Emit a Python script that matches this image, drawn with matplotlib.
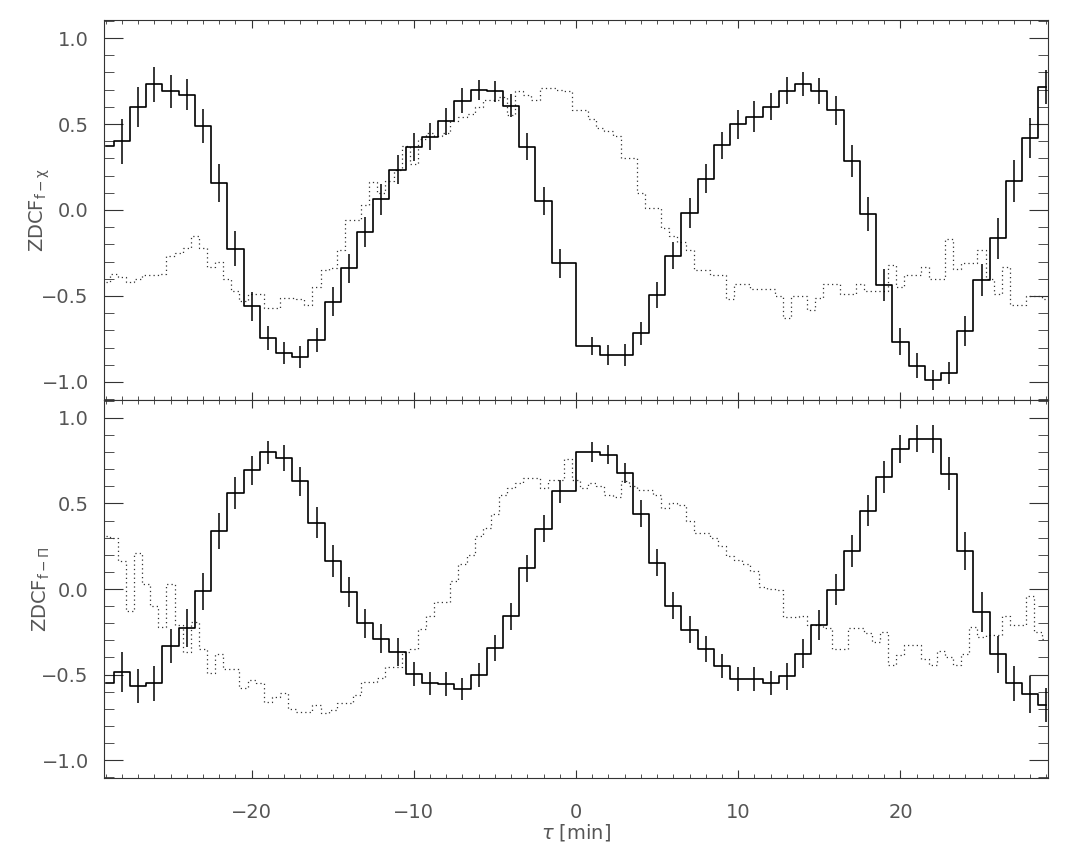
import numpy as np
import matplotlib
matplotlib.use("Agg")
import matplotlib.pyplot as plt
from matplotlib.ticker import MultipleLocator

# lags of the coarse ZDCF (solid) -- zero lag bin is missing
solid_lag = [t for t in range(-29, 30) if t != 0]

# upper panel: ZDCF f - chi
top_solid = [0.37, 0.40, 0.60, 0.73, 0.69, 0.67, 0.49, 0.155, -0.225, -0.56,
             -0.745, -0.83, -0.856, -0.756, -0.533, -0.34, -0.13, 0.062, 0.234, 0.366,
             0.426, 0.517, 0.636, 0.70, 0.69, 0.606, 0.368, 0.052, -0.31,
             -0.79, -0.843, -0.843, -0.717, -0.494, -0.267, -0.016, 0.182, 0.376, 0.498,
             0.543, 0.60, 0.694, 0.733, 0.69, 0.58, 0.285, -0.023, -0.436, -0.766,
             -0.905, -0.988, -0.946, -0.703, -0.407, -0.165, 0.169, 0.42, 0.717]
top_err = [0.13, 0.13, 0.115, 0.10, 0.094, 0.09, 0.10, 0.11, 0.10, 0.083,
           0.07, 0.063, 0.063, 0.068, 0.083, 0.087, 0.087, 0.09, 0.083, 0.083,
           0.078, 0.078, 0.073, 0.058, 0.063, 0.068, 0.078, 0.083, 0.085,
           0.054, 0.058, 0.063, 0.068, 0.073, 0.078, 0.087, 0.083, 0.078, 0.083,
           0.092, 0.078, 0.078, 0.068, 0.076, 0.084, 0.092, 0.10, 0.092, 0.078,
           0.073, 0.058, 0.063, 0.087, 0.092, 0.12, 0.12, 0.116, 0.10]

# lower panel: ZDCF f - Pi
bot_solid = [-0.552, -0.484, -0.566, -0.552, -0.333, -0.227, -0.014, 0.339, 0.562, 0.694,
             0.80, 0.766, 0.63, 0.388, 0.163, -0.016, -0.20, -0.29, -0.368, -0.498,
             -0.552, -0.558, -0.585, -0.504, -0.345, -0.159, 0.12, 0.353, 0.572,
             0.80, 0.785, 0.68, 0.44, 0.155, -0.097, -0.238, -0.35, -0.45, -0.527,
             -0.527, -0.552, -0.51, -0.378, -0.209, -0.004, 0.223, 0.459, 0.655, 0.818,
             0.88, 0.878, 0.674, 0.223, -0.136, -0.382, -0.552, -0.616, -0.678]
bot_err = [0.11, 0.116, 0.10, 0.10, 0.10, 0.11, 0.107, 0.107, 0.095, 0.083,
           0.068, 0.078, 0.085, 0.09, 0.094, 0.087, 0.084, 0.087, 0.08, 0.07,
           0.068, 0.07, 0.065, 0.07, 0.074, 0.078, 0.08, 0.078, 0.068,
           0.058, 0.055, 0.058, 0.078, 0.078, 0.081, 0.08, 0.078, 0.068, 0.072,
           0.072, 0.07, 0.078, 0.083, 0.087, 0.092, 0.092, 0.092, 0.094, 0.08,
           0.08, 0.08, 0.097, 0.113, 0.118, 0.107, 0.10, 0.107, 0.10]

# finer ZDCF (dotted), half-minute lags
dot_lag = np.arange(-29, 29.5, 0.5)
top_dot = [-0.42, -0.37, -0.39, -0.42, -0.40, -0.38, -0.38, -0.37, -0.27, -0.25,
           -0.22, -0.15, -0.22, -0.33, -0.30, -0.40, -0.47, -0.53, -0.49, -0.49,
           -0.57, -0.57, -0.51, -0.51, -0.52, -0.55, -0.45, -0.35, -0.34, -0.23,
           -0.06, -0.06, 0.03, 0.16, 0.10, 0.17, 0.23, 0.37, 0.27, 0.41,
           0.45, 0.43, 0.45, 0.52, 0.54, 0.56, 0.60, 0.64, 0.64, 0.66,
           0.55, 0.69, 0.67, 0.64, 0.71, 0.71, 0.70, 0.69, 0.58, 0.58,
           0.53, 0.475, 0.46, 0.43, 0.30, 0.30, 0.10, 0.01, 0.01, -0.106,
           -0.15, -0.184, -0.23, -0.35, -0.35, -0.378, -0.378, -0.52, -0.43, -0.43,
           -0.46, -0.46, -0.46, -0.50, -0.63, -0.50, -0.50, -0.58, -0.51, -0.43,
           -0.43, -0.49, -0.49, -0.43, -0.47, -0.47, -0.47, -0.32, -0.45, -0.38,
           -0.38, -0.33, -0.40, -0.40, -0.17, -0.345, -0.31, -0.31, -0.23, -0.40,
           -0.49, -0.33, -0.55, -0.55, -0.50, -0.50, -0.52]
bot_dot = [0.31, 0.30, 0.165, -0.126, 0.21, 0.03, -0.10, -0.223, 0.03, -0.21,
           -0.368, -0.19, -0.35, -0.494, -0.38, -0.467, -0.467, -0.58, -0.532, -0.55,
           -0.66, -0.63, -0.61, -0.70, -0.717, -0.717, -0.68, -0.727, -0.71, -0.669,
           -0.669, -0.62, -0.543, -0.543, -0.52, -0.455, -0.455, -0.368, -0.35, -0.233,
           -0.155, -0.077, -0.077, 0.048, 0.145, 0.20, 0.31, 0.359, 0.436, 0.552,
           0.59, 0.62, 0.65, 0.65, 0.59, 0.64, 0.64, 0.76, 0.64, 0.59,
           0.62, 0.60, 0.55, 0.54, 0.63, 0.60, 0.58, 0.58, 0.55, 0.475,
           0.50, 0.49, 0.40, 0.33, 0.33, 0.30, 0.25, 0.194, 0.17, 0.145,
           0.107, 0.01, 0.0, -0.004, -0.165, -0.165, -0.155, -0.21, -0.21, -0.23,
           -0.349, -0.349, -0.23, -0.23, -0.26, -0.31, -0.25, -0.446, -0.388, -0.326,
           -0.326, -0.407, -0.446, -0.365, -0.40, -0.446, -0.378, -0.223, -0.28, -0.27,
           -0.27, -0.155, -0.21, -0.21, -0.039, -0.25, -0.29]

ylabels = [r'ZDCF$_{\rm f-\chi}$', r'ZDCF$_{\rm f-\Pi}$']
txt = '#555555'

fig = plt.figure(figsize=(10.69, 8.61), dpi=100)
ax1 = fig.add_axes([0.0973, 0.5354, 0.8831, 0.4414])
ax2 = fig.add_axes([0.0973, 0.0964, 0.8831, 0.4390], sharex=ax1)

panels = [(ax1, top_solid, top_err, top_dot), (ax2, bot_solid, bot_err, bot_dot)]
for i, (ax, ys, ye, yd) in enumerate(panels):
    ax.step(dot_lag, yd, where='mid', color='#333333', lw=0.9, ls=(0, (1, 2.5)))
    ax.step(solid_lag, ys, where='mid', color='k', lw=1.2)
    # the edge bin at -29 has no visible bar
    ax.errorbar(solid_lag[1:], ys[1:], yerr=ye[1:], fmt='none', ecolor='k',
                elinewidth=1.1, capsize=0)
    ax.set_xlim(-29.1, 29.1)
    ax.set_ylim(-1.105, 1.105)
    ax.xaxis.set_major_locator(MultipleLocator(10))
    ax.xaxis.set_minor_locator(MultipleLocator(1))
    ax.yaxis.set_major_locator(MultipleLocator(0.5))
    ax.yaxis.set_minor_locator(MultipleLocator(0.1))
    ax.tick_params(which='both', direction='in', top=True, right=True, colors='#333333',
                   labelcolor=txt, labelsize=14)
    ax.tick_params(axis='y', which='major', length=14, pad=11)
    ax.tick_params(axis='y', which='minor', length=7)
    ax.tick_params(axis='x', which='major', length=6, pad=18)
    ax.tick_params(axis='x', which='minor', length=3)
    ax.yaxis.set_major_formatter(plt.FuncFormatter(lambda v, p: ('%.1f' % v).replace('-', '\u2212')))
    for s in ax.spines.values():
        s.set_color('#333333')
    ax.set_ylabel(ylabels[i], fontsize=14, color=txt)
    ax.yaxis.set_label_coords(-0.055, 0.5)

ax1.tick_params(axis='x', labelbottom=False)
ax2.set_xlabel(r'$\tau$ [min]', fontsize=14, color=txt, labelpad=0)

fig.savefig('out.png', dpi=100)
